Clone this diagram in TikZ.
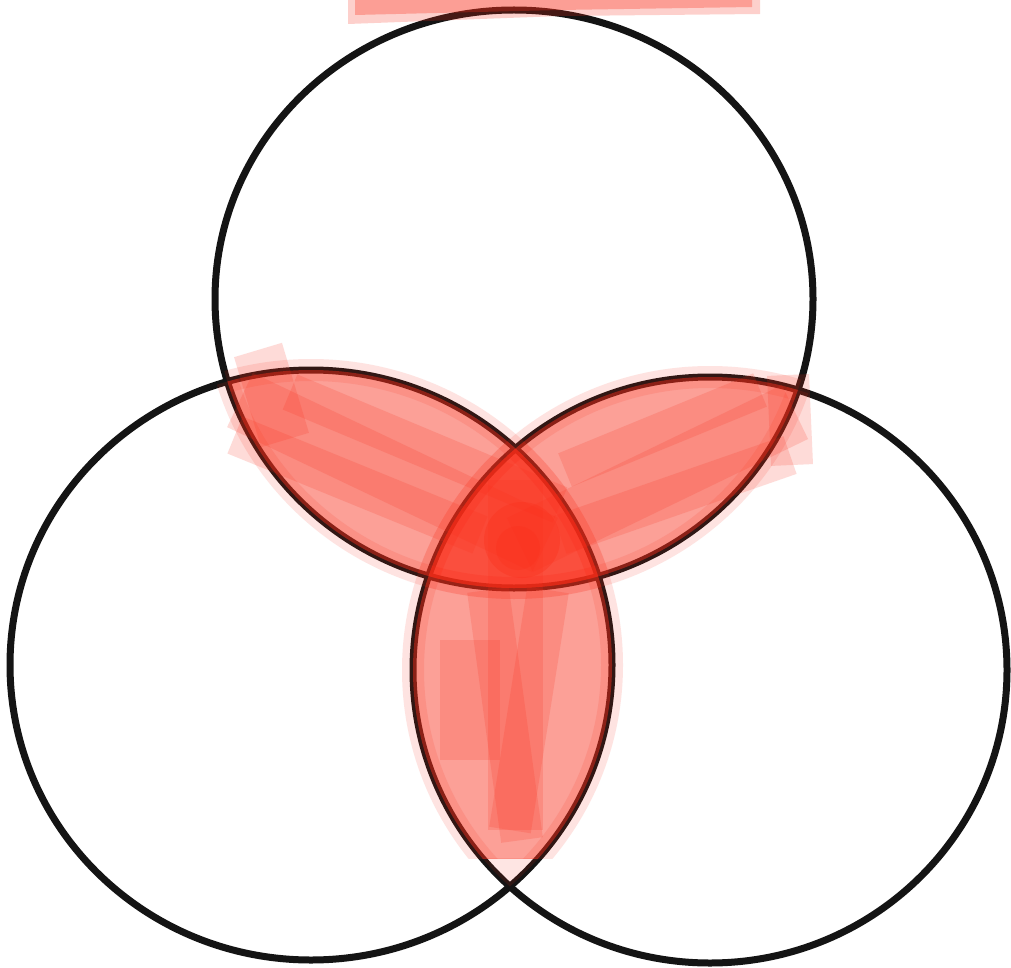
\documentclass[tikz,border=0pt]{standalone}
\definecolor{brush}{RGB}{250,45,25}
\tikzset{
  ring/.style={draw=black!92, line width=7pt},
  wash/.style={fill=brush, fill opacity=0.45},
  spill/.style={draw=brush, draw opacity=0.13, line width=22pt},
  stroke/.style={draw=brush, draw opacity=0.17, line cap=butt},
}
\newcommand\circTop{(514,299) ellipse [x radius=299, y radius=289]}
\newcommand\circLeft{(311,665) ellipse [x radius=301, y radius=295]}
\newcommand\circRight{(710,670) ellipse [x radius=297, y radius=293]}
\begin{document}
\begin{tikzpicture}[x=1pt,y=-1pt]
\useasboundingbox (0,0) rectangle (1011,968);
\fill[white] (0,0) rectangle (1011,968);
% circles
\draw[ring] \circTop;
\draw[ring] \circLeft;
\draw[ring] \circRight;
% top bar stroke (cut off)
\fill[brush, opacity=0.22] (348,-10) -- (760,-10) -- (760,14) -- (560,16) -- (348,24) -- cycle;
\fill[brush, opacity=0.30] (355,-10) -- (752,-10) -- (752,7) -- (560,10) -- (355,15) -- cycle;
% lens washes
\begin{scope}
  \clip \circTop;
  \fill[wash] \circLeft;
  \draw[spill] \circLeft;
\end{scope}
\begin{scope}
  \clip \circLeft;
  \draw[spill] \circTop;
\end{scope}
\begin{scope}
  \clip \circTop;
  \fill[wash] \circRight;
  \draw[spill] \circRight;
\end{scope}
\begin{scope}
  \clip \circRight;
  \draw[spill] \circTop;
\end{scope}
\begin{scope}
  \clip \circLeft;
  \clip (0,0) rectangle (1011,858);
  \fill[wash] \circRight;
  \draw[spill] \circRight;
\end{scope}
\begin{scope}
  \clip \circRight;
  \clip (0,0) rectangle (1011,858);
  \draw[spill] \circLeft;
\end{scope}
\begin{scope}
  \clip \circLeft;
  \clip (0,858) rectangle (1011,968);
  \fill[brush, fill opacity=0.12] \circRight;
\end{scope}
% brush strokes top-left lens
\draw[stroke, line width=60pt] (240,400) -- (545,545);
\draw[stroke, line width=40pt] (235,435) -- (480,535);
\draw[stroke, line width=38pt] (290,392) -- (560,505);
\draw[stroke, line width=50pt] (258,350) -- (285,440);
% brush strokes top-right lens
\draw[stroke, line width=60pt] (795,412) -- (520,545);
\draw[stroke, line width=40pt] (790,455) -- (560,535);
\draw[stroke, line width=36pt] (760,390) -- (565,470);
\draw[stroke, line width=42pt] (788,375) -- (792,465);
% brush strokes bottom lens
\draw[stroke, line width=55pt] (515,480) -- (515,830);
\draw[stroke, line width=42pt] (488,590) -- (522,840);
\draw[stroke, line width=42pt] (548,590) -- (510,830);
\draw[stroke, line width=60pt] (470,640) -- (470,760);
% dark centre
\fill[brush, opacity=0.30] (522,540) circle [radius=38];
\fill[brush, opacity=0.25] (518,548) circle [radius=22];
\end{tikzpicture}
\end{document}
